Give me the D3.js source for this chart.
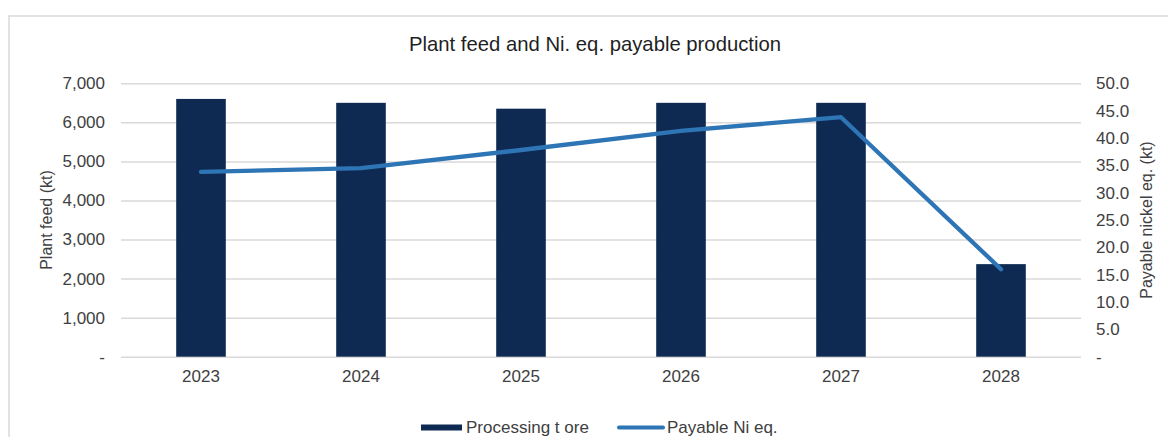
<!DOCTYPE html>
<html>
<head>
<meta charset="utf-8">
<script src="https://cdn.jsdelivr.net/npm/d3@7"></script>
<style>
  html, body { margin: 0; padding: 0; background: #ffffff; }
  svg { display: block; font-family: "Liberation Sans", Arial, sans-serif; }
</style>
</head>
<body>
<svg id="chart" width="1168" height="437"></svg>
<script>
// Years on the x axis
const years = ["2023", "2024", "2025", "2026", "2027", "2028"];
// Plant feed, processing tonnes of ore (kt) – bars, left axis
const plantFeed = [6600, 6500, 6350, 6500, 6500, 2370];
// Payable nickel equivalent (kt) – line, right axis
const payableNi = [33.8, 34.5, 37.8, 41.3, 43.8, 16.0];
// Axis tick values
const leftTicks = [0, 1000, 2000, 3000, 4000, 5000, 6000, 7000];
const rightTicks = [0, 5, 10, 15, 20, 25, 30, 35, 40, 45, 50];

const svg = d3.select("#chart");
const W = 1168, H = 437;
const plot = { left: 121, right: 1081, top: 83.3, bottom: 356.7 };

const textColor = "#404040";
const gridColor = "#d9d9d9";
const barColor = "#0e2a53";
const lineColor = "#2e75b6";

// Outer frame (continues past the right and bottom edges)
svg.append("path")
  .attr("d", `M9,${H + 5} V16 H${W + 5}`)
  .attr("fill", "none")
  .attr("stroke", gridColor)
  .attr("stroke-width", 1.5);

// Scales
const x = d3.scaleBand().domain(years).range([plot.left, plot.right]).padding(0);
const yL = d3.scaleLinear().domain([0, 7000]).range([plot.bottom, plot.top]);
const yR = d3.scaleLinear().domain([0, 50]).range([plot.bottom, plot.top]);

// Gridlines + left axis
const leftAxis = d3.axisLeft(yL)
  .tickValues(leftTicks)
  .tickSize(-(plot.right - plot.left))
  .tickPadding(16)
  .tickFormat(d => d === 0 ? "-" : d3.format(",")(d));

const gL = svg.append("g")
  .attr("transform", `translate(${plot.left},0)`)
  .call(leftAxis);
gL.select(".domain").remove();
gL.selectAll(".tick line").attr("stroke", gridColor).attr("stroke-width", 1.5);
gL.selectAll(".tick text")
  .attr("fill", textColor)
  .attr("font-size", 17)
  .attr("font-family", "Liberation Sans, Arial, sans-serif");

// Right axis (labels only)
const rightAxis = d3.axisRight(yR)
  .tickValues(rightTicks)
  .tickSize(0)
  .tickPadding(15)
  .tickFormat(d => d === 0 ? "-" : d3.format(".1f")(d));

const gR = svg.append("g")
  .attr("transform", `translate(${plot.right},0)`)
  .call(rightAxis);
gR.select(".domain").remove();
gR.selectAll(".tick text")
  .attr("fill", textColor)
  .attr("font-size", 17)
  .attr("font-family", "Liberation Sans, Arial, sans-serif");

// Bottom axis (year labels)
const bottomAxis = d3.axisBottom(x).tickSize(0).tickPadding(13);
const gB = svg.append("g")
  .attr("transform", `translate(0,${plot.bottom})`)
  .call(bottomAxis);
gB.select(".domain").remove();
gB.selectAll(".tick text")
  .attr("fill", textColor)
  .attr("font-size", 17)
  .attr("font-family", "Liberation Sans, Arial, sans-serif");

// Bars
const barW = x.bandwidth() * 0.31;
svg.append("g").selectAll("rect")
  .data(years.map((yr, i) => ({ yr, v: plantFeed[i] })))
  .join("rect")
  .attr("x", d => x(d.yr) + (x.bandwidth() - barW) / 2)
  .attr("y", d => yL(d.v))
  .attr("width", barW)
  .attr("height", d => yL(0) - yL(d.v))
  .attr("fill", barColor);

// Payable Ni line
const line = d3.line()
  .x(d => x(d.yr) + x.bandwidth() / 2)
  .y(d => yR(d.v));
svg.append("path")
  .datum(years.map((yr, i) => ({ yr, v: payableNi[i] })))
  .attr("d", line)
  .attr("fill", "none")
  .attr("stroke", lineColor)
  .attr("stroke-width", 4.3)
  .attr("stroke-linejoin", "round")
  .attr("stroke-linecap", "round");

// Title
svg.append("text")
  .attr("x", 595)
  .attr("y", 51)
  .attr("text-anchor", "middle")
  .attr("fill", "#1f1f1f")
  .attr("font-size", 20.3)
  .text("Plant feed and Ni. eq. payable production");

// Axis titles
svg.append("text")
  .attr("transform", `translate(52,${(plot.top + plot.bottom) / 2}) rotate(-90)`)
  .attr("text-anchor", "middle")
  .attr("fill", textColor)
  .attr("font-size", 16)
  .text("Plant feed (kt)");

svg.append("text")
  .attr("transform", `translate(1152,${(plot.top + plot.bottom) / 2}) rotate(-90)`)
  .attr("text-anchor", "middle")
  .attr("fill", textColor)
  .attr("font-size", 16)
  .text("Payable nickel eq. (kt)");

// Legend
const legend = svg.append("g").attr("font-size", 17).attr("fill", textColor);
legend.append("rect")
  .attr("x", 421).attr("y", 424.5).attr("width", 41).attr("height", 6)
  .attr("fill", barColor);
legend.append("text")
  .attr("x", 466).attr("y", 433)
  .text("Processing t ore");
legend.append("line")
  .attr("x1", 619).attr("x2", 663).attr("y1", 427.5).attr("y2", 427.5)
  .attr("stroke", lineColor).attr("stroke-width", 4).attr("stroke-linecap", "round");
legend.append("text")
  .attr("x", 667).attr("y", 433)
  .text("Payable Ni eq.");
</script>
</body>
</html>
